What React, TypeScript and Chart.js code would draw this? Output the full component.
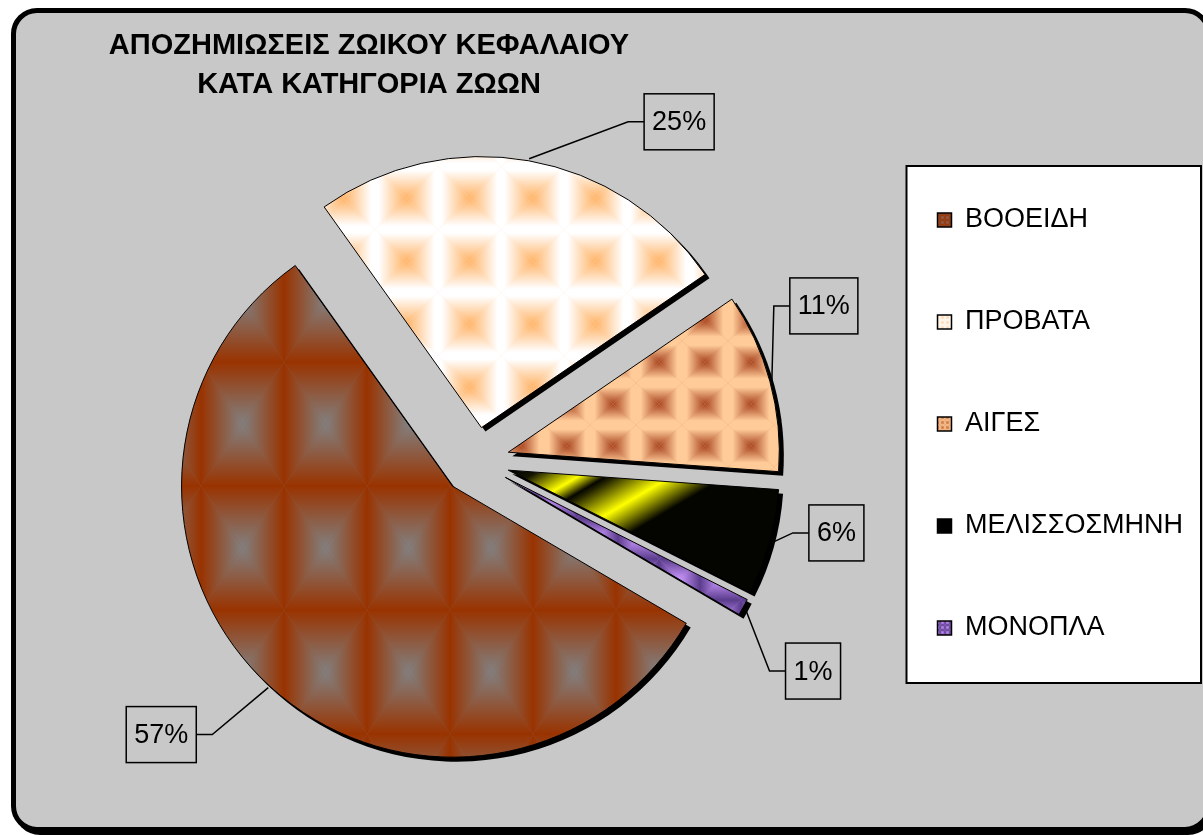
import React, { useEffect, useRef } from 'react';
import { Chart, registerables } from 'chart.js';

Chart.register(...registerables);

// ---------- data ----------
const categories = ['ΒΟΟΕΙΔΗ', 'ΠΡΟΒΑΤΑ', 'ΑΙΓΕΣ', 'ΜΕΛΙΣΣΟΣΜΗΝΗ', 'ΜΟΝΟΠΛΑ'];
const shares = [56.7, 25.3, 10.7, 6.3, 1.0];
const titleLines = ['ΑΠΟΖΗΜΙΩΣΕΙΣ ΖΩΙΚΟΥ ΚΕΦΑΛΑΙΟΥ', 'ΚΑΤΑ ΚΑΤΗΓΟΡΙΑ ΖΩΩΝ'];

// ---------- styles / layout ----------
const W = 1203;
const H = 835;
const BG = '#C8C8C8';
const FAMILY = '"Liberation Sans", Arial, sans-serif';
const ROTATION = 120.4;
const RADIUS = 271;
const EXPLODE = 34;
const SHADOW = 4;
const LABEL_FONT = 27;
const LABEL_OFFSETS: number[][] = [
  [-107, 47],
  [150, -37],
  [52, -75],
  [65, -10],
  [68, 63],
];
const LEGEND_PAD = 75;
const LEGEND_LEFT = 862.5;
const LEGEND_TOP = 131.5;
const TITLE_CX = 369;
const TITLE_TOP = 26;

function tile(w: number, h: number, center: string, edge: string, base: string, hold = 0) {
  const c = document.createElement('canvas');
  c.width = w;
  c.height = h;
  const g = c.getContext('2d') as CanvasRenderingContext2D;
  g.fillStyle = base;
  g.fillRect(0, 0, w, h);
  const cx = w / 2;
  const cy = h / 2;
  const tri = (pts: number[][], x0: number, y0: number, x1: number, y1: number) => {
    const gr = g.createLinearGradient(x0, y0, x1, y1);
    gr.addColorStop(0, edge);
    if (hold > 0) gr.addColorStop(hold, edge);
    gr.addColorStop(1, center);
    g.fillStyle = gr;
    g.beginPath();
    g.moveTo(pts[0][0], pts[0][1]);
    g.lineTo(pts[1][0], pts[1][1]);
    g.lineTo(pts[2][0], pts[2][1]);
    g.closePath();
    g.fill();
  };
  tri([[0, 0], [w, 0], [cx, cy]], 0, 0, 0, cy);
  tri([[0, h], [w, h], [cx, cy]], 0, h, 0, cy);
  tri([[0, 0], [0, h], [cx, cy]], 0, 0, cx, 0);
  tri([[w, 0], [w, h], [cx, cy]], w, 0, cx, 0);
  return c;
}

function pattern(ctx: CanvasRenderingContext2D, t: HTMLCanvasElement, ox: number, oy: number) {
  const p = ctx.createPattern(t, 'repeat') as CanvasPattern;
  p.setTransform(new DOMMatrix().translate(ox, oy));
  return p;
}

function buildFills(ctx: CanvasRenderingContext2D) {
  const cattle = pattern(ctx, tile(83, 124, '#828080', '#993300', '#8a5a45'), 284, 362);
  const sheep = pattern(ctx, tile(63, 63, '#FFB468', '#FFFFFF', '#FFE8D0', 0.12), 375, 166.5);
  const goats = pattern(ctx, tile(46, 42, '#A84420', '#FFCC99', '#E0A070', 0.2), 590, 299);
  // bee-hive slice: black with two yellow diagonal bands near the tip
  const ux = 0.507;
  const uy = 0.862;
  const px = 568;
  const py = 493;
  const s0 = -45;
  const s1 = 135;
  const f = (s: number) => (s - s0) / (s1 - s0);
  const bees = ctx.createLinearGradient(px + ux * s0, py + uy * s0, px + ux * s1, py + uy * s1);
  bees.addColorStop(0, '#050500');
  bees.addColorStop(f(-34), '#141400');
  bees.addColorStop(f(-9), '#FFFF00');
  bees.addColorStop(f(5), '#060600');
  bees.addColorStop(f(10), '#242400');
  bees.addColorStop(f(38), '#FFFF00');
  bees.addColorStop(f(66), '#050500');
  bees.addColorStop(1, '#050500');
  const horses = pattern(ctx, tile(41, 41, '#CC99FF', '#5B3C8C', '#9070C0'), 577, 600);
  return [cattle, sheep, goats, bees, horses];
}

function buildLegendFills(ctx: CanvasRenderingContext2D) {
  return [
    pattern(ctx, tile(5, 5, '#8a6a60', '#993300', '#8a4a35'), 0, 0),
    pattern(ctx, tile(5, 5, '#FFD0A0', '#FFFFFF', '#FFEEDD'), 0, 0),
    pattern(ctx, tile(5, 5, '#C06030', '#FFCC99', '#E0A070'), 0, 0),
    '#000000',
    pattern(ctx, tile(5, 5, '#CC99FF', '#5B3C8C', '#9070C0'), 0, 0),
  ];
}

const layoutPlugin = {
  id: 'placeBlocks',
  afterLayout(chart: any) {
    const lg = chart.legend;
    if (lg) {
      lg.left = LEGEND_LEFT;
      lg.right = W;
      lg.width = W - LEGEND_LEFT;
      lg.top = LEGEND_TOP;
      lg.bottom = LEGEND_TOP + 700;
      lg.height = 700;
    }
    const t = chart.titleBlock;
    if (t) {
      const tw = 760;
      const th = t.height;
      t.left = TITLE_CX - tw / 2;
      t.right = TITLE_CX + tw / 2;
      t.width = tw;
      t.top = TITLE_TOP;
      t.bottom = TITLE_TOP + th;
    }
  },
};

const legendBgPlugin = {
  id: 'legendBg',
  beforeDraw(chart: any) {
    const lg = chart.legend;
    if (!lg) return;
    const ctx = chart.ctx;
    const x0 = lg.left + LEGEND_PAD - 31;
    const y0 = lg.top + LEGEND_PAD - 40.5;
    const w = 1201 - x0;
    const h = 517;
    ctx.save();
    ctx.fillStyle = '#FFFFFF';
    ctx.fillRect(x0, y0, w, h);
    ctx.strokeStyle = '#000000';
    ctx.lineWidth = 2;
    ctx.strokeRect(x0, y0, w, h);
    ctx.restore();
  },
};

const explodePlugin = {
  id: 'explode',
  afterDatasetUpdate(chart: any, args: any) {
    for (const el of args.meta.data) {
      const mid = (el.startAngle + el.endAngle) / 2;
      el.x += Math.cos(mid) * EXPLODE;
      el.y += Math.sin(mid) * EXPLODE;
    }
  },
};

// solid drop shadow beneath each exploded slice (fill only)
const shadowPlugin = {
  id: 'sliceShadow',
  beforeDatasetsDraw(chart: any) {
    const c = chart.ctx;
    const meta = chart.getDatasetMeta(0);
    c.save();
    c.fillStyle = '#000000';
    for (const el of meta.data as any[]) {
      const x = el.x + SHADOW;
      const y = el.y + SHADOW;
      c.beginPath();
      c.moveTo(x, y);
      c.arc(x, y, el.outerRadius + 0.5, el.startAngle, el.endAngle);
      c.closePath();
      c.fill();
    }
    c.restore();
  },
};

const labelPlugin = {
  id: 'sliceLabels',
  afterDraw(chart: any) {
    const ctx = chart.ctx;
    const meta = chart.getDatasetMeta(0);
    const data = chart.data.datasets[0].data as number[];
    const total = data.reduce((a, b) => a + b, 0);
    ctx.save();
    ctx.font = `${LABEL_FONT}px ${FAMILY}`;
    ctx.textAlign = 'center';
    ctx.textBaseline = 'middle';
    ctx.strokeStyle = '#000000';
    ctx.fillStyle = '#000000';
    ctx.lineWidth = 1.5;
    meta.data.forEach((el: any, i: number) => {
      const mid = (el.startAngle + el.endAngle) / 2;
      const ax = el.x + Math.cos(mid) * (el.outerRadius + 2);
      const ay = el.y + Math.sin(mid) * (el.outerRadius + 2);
      const text = Math.round((data[i] / total) * 100) + '%';
      const tw = ctx.measureText(text).width;
      const bw = tw + 16;
      const bh = 56;
      const cx = ax + LABEL_OFFSETS[i][0];
      const cy = ay + LABEL_OFFSETS[i][1];
      const leftSide = cx < ax;
      const side = leftSide ? cx + bw / 2 : cx - bw / 2;
      const elbow = leftSide ? side + 16 : side - 16;
      ctx.beginPath();
      ctx.moveTo(ax, ay);
      ctx.lineTo(elbow, cy);
      ctx.lineTo(side, cy);
      ctx.stroke();
      ctx.strokeRect(cx - bw / 2, cy - bh / 2, bw, bh);
      ctx.fillText(text, cx, cy + 1);
    });
    ctx.restore();
  },
};

export default function App() {
  const ref = useRef<HTMLCanvasElement | null>(null);

  useEffect(() => {
    const canvas = ref.current;
    if (!canvas) return;
    const ctx = canvas.getContext('2d') as CanvasRenderingContext2D;
    const fills = buildFills(ctx);
    const legendFills = buildLegendFills(ctx);
    const chart = new Chart(canvas, {
      type: 'pie',
      data: {
        labels: categories,
        datasets: [
          {
            data: shares,
            backgroundColor: fills as any,
            borderColor: '#000000',
            borderWidth: 1,
            radius: RADIUS,
          } as any,
        ],
      },
      options: {
        responsive: false,
        animation: false,
        devicePixelRatio: 1,
        events: [],
        rotation: ROTATION,
        radius: RADIUS,
        layout: { padding: { left: 48, right: 0, top: 8.3, bottom: 0 } },
        plugins: {
          title: {
            display: true,
            text: titleLines,
            color: '#000000',
            align: 'center',
            font: { family: FAMILY, size: 29, weight: 'bold', lineHeight: 1.36 },
            padding: { top: 0, bottom: 0 },
          },
          legend: {
            display: true,
            position: 'right',
            align: 'start',
            maxWidth: 300,
            labels: {
              color: '#000000',
              font: { family: FAMILY, size: 27 },
              boxWidth: 14,
              boxHeight: 14,
              padding: LEGEND_PAD,
              generateLabels: () =>
                categories.map((text, i) => ({
                  text,
                  fillStyle: legendFills[i],
                  strokeStyle: '#000000',
                  lineWidth: 1.5,
                  hidden: false,
                  index: i,
                  fontColor: '#000000',
                })),
            },
          },
          tooltip: { enabled: false },
        },
      } as any,
      plugins: [layoutPlugin, legendBgPlugin, explodePlugin, shadowPlugin, labelPlugin],
    });
    return () => chart.destroy();
  }, []);

  return (
    <div style={{ position: 'fixed', left: 0, top: 0, width: W, height: H, overflow: 'hidden' }}>
      <div
        style={{
          position: 'absolute',
          left: 11,
          top: 8,
          width: 1200,
          height: 824,
          boxSizing: 'border-box',
          border: '5px solid #000',
          borderRadius: 26,
          background: BG,
          boxShadow: '3px 3px 0 #000',
        }}
      />
      <canvas
        ref={ref}
        width={W}
        height={H}
        style={{ position: 'absolute', left: 0, top: 0, width: W, height: H }}
      />
    </div>
  );
}
